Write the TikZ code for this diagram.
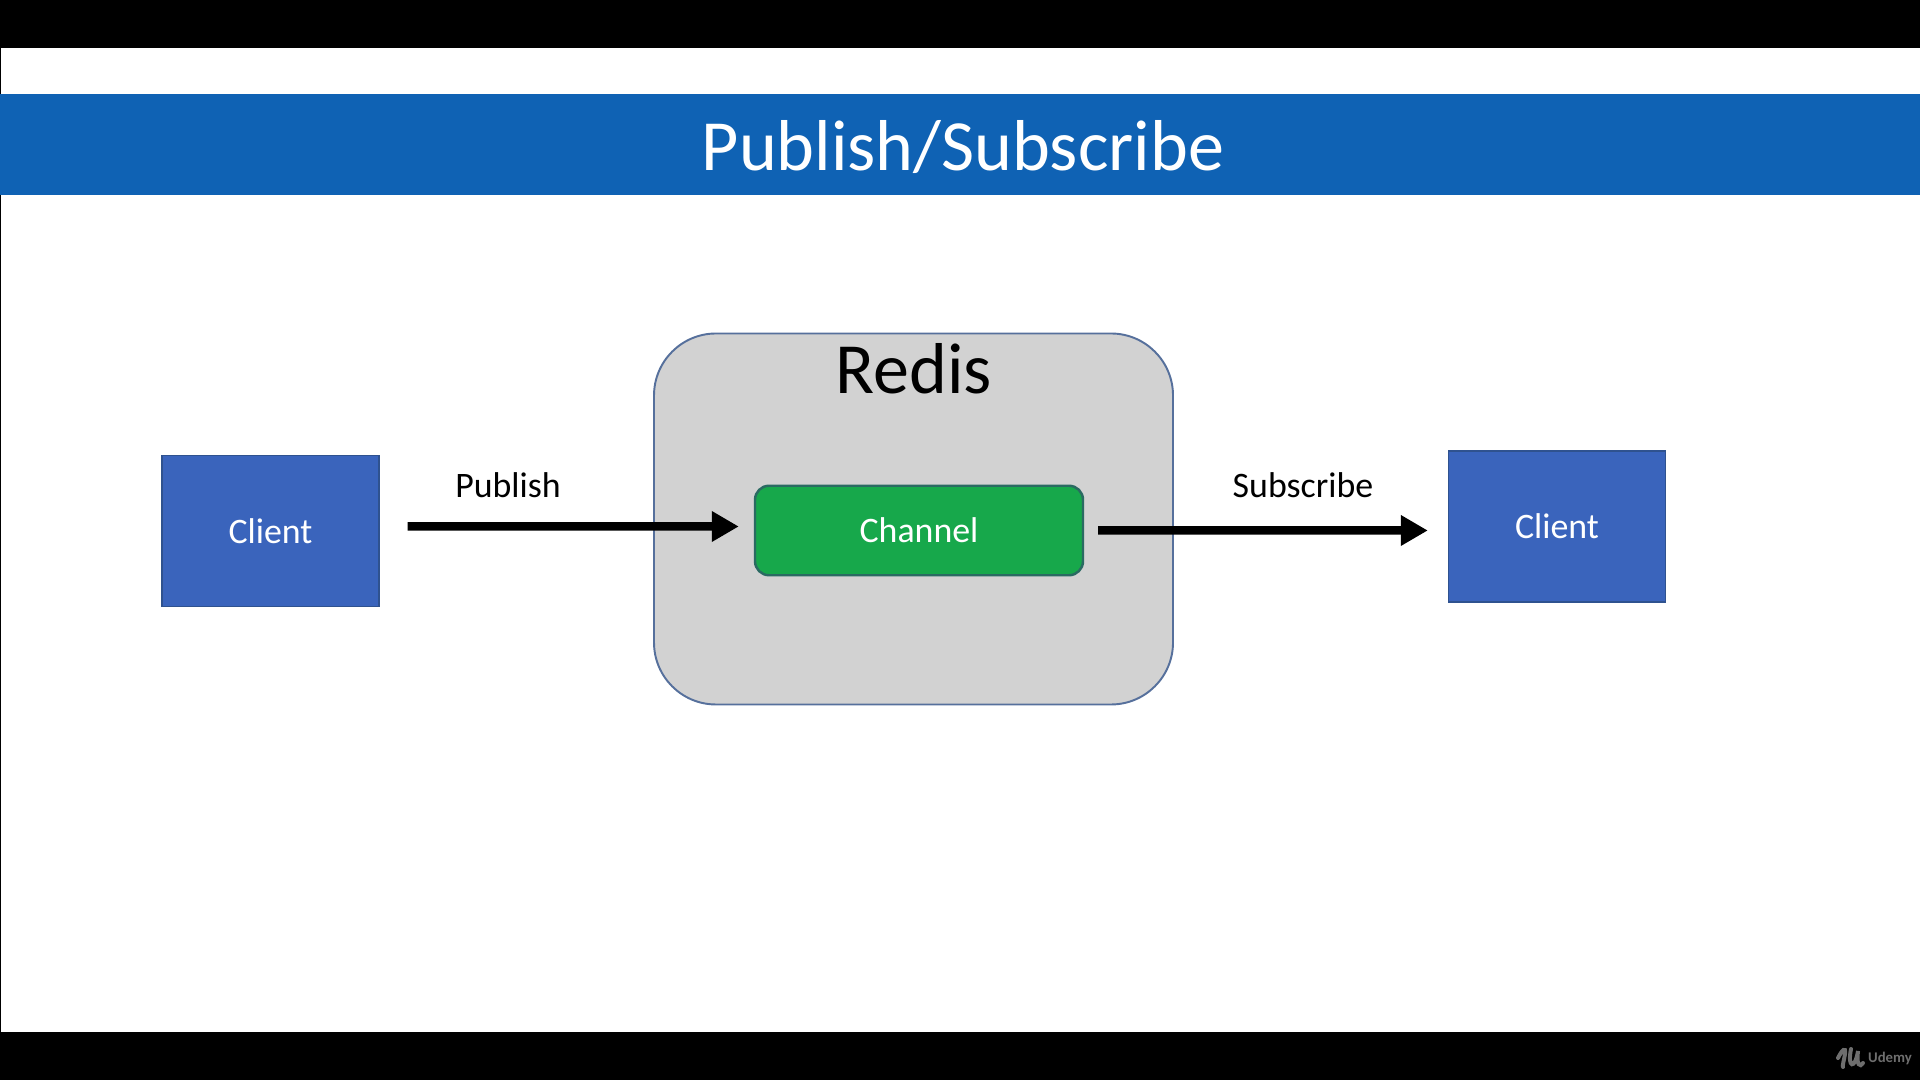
\documentclass[tikz,border=0pt]{standalone}
\usepackage{fontspec}
\setmainfont{Carlito}
\usetikzlibrary{arrows.meta}
\definecolor{bandblue}{HTML}{0F62B4}
\definecolor{clientblue}{HTML}{3A64BC}
\definecolor{clientline}{HTML}{2F528F}
\definecolor{channelgreen}{HTML}{17A84B}
\definecolor{channelline}{HTML}{2A6A62}
\definecolor{redisgray}{HTML}{D2D2D2}
\definecolor{redisline}{HTML}{56709C}
\definecolor{logogray}{HTML}{6E6E6E}
\tikzset{
  client/.style={draw=clientline,fill=clientblue,text=white,line width=0.4pt,shape=rectangle,
    minimum width=2.17cm,minimum height=1.51cm,inner sep=0pt,font=\fontsize{10.2}{12}\selectfont},
  flowlabel/.style={inner sep=0pt,font=\fontsize{10.2}{12}\selectfont},
  flow/.style={-{Triangle[length=0.27cm,width=0.29cm]},line width=0.085cm}
}
\begin{document}
\begin{tikzpicture}[every text node part/.style={align=center}]
\useasboundingbox (0,0) rectangle (19.2,10.8);
\fill [black] (0,0) rectangle (19.2,10.8);
\fill [white] (0.015,0.48) rectangle (19.2,10.32);
\node [fill=bandblue,shape=rectangle,minimum width=19.2cm,minimum height=1.01cm,inner sep=0pt] (band) at (9.6,9.355) {};
\node [text=white,inner sep=0pt,font=\fontsize{20.5}{24}\selectfont] (title) at (9.63,9.33) {Publish/Subscribe};
\node [draw=redisline,fill=redisgray,line width=0.55pt,shape=rectangle,rounded corners=0.62cm,minimum width=5.19cm,minimum height=3.71cm,inner sep=0pt] (redis) at (9.135,5.61) {};
\node [inner sep=0pt,font=\fontsize{20.5}{24}\selectfont] (redislabel) at (9.14,7.11) {Redis};
\node [draw=channelline,fill=channelgreen,text=white,line width=0.7pt,shape=rectangle,rounded corners=0.14cm,minimum width=3.28cm,minimum height=0.895cm,inner sep=0pt,font=\fontsize{10.2}{12}\selectfont] (channel) at (9.19,5.495) {Channel};
\node [client] (pubclient) at (2.705,5.49) {Client};
\node [client] (subclient) at (15.57,5.535) {Client};
\node [flowlabel] (publish) at (5.08,5.95) {Publish};
\node [flowlabel] (subscribe) at (13.03,5.95) {Subscribe};
\node [text=logogray,inner sep=0pt,font=\bfseries\fontsize{4.2}{5}\selectfont] (udemy) at (18.9,0.22) {Udemy};
\draw [flow,shorten <=0.28cm,shorten >=0.15cm] ([yshift=0.045cm]pubclient.east) -- ([yshift=0.04cm]channel.west);
\draw [flow,shorten <=0.14cm,shorten >=0.2cm] (channel.east) -- ([yshift=-0.04cm]subclient.west);
\draw [logogray,line width=0.04cm,line cap=round] (18.38,0.22) .. controls (18.42,0.30) and (18.46,0.34) .. (18.45,0.26) .. controls (18.44,0.20) and (18.42,0.13) .. (18.43,0.13);
\draw [logogray,line width=0.04cm,line cap=round] (18.51,0.31) .. controls (18.47,0.12) and (18.55,0.10) .. (18.58,0.29) .. controls (18.56,0.15) and (18.60,0.12) .. (18.63,0.17);
\end{tikzpicture}
\end{document}
